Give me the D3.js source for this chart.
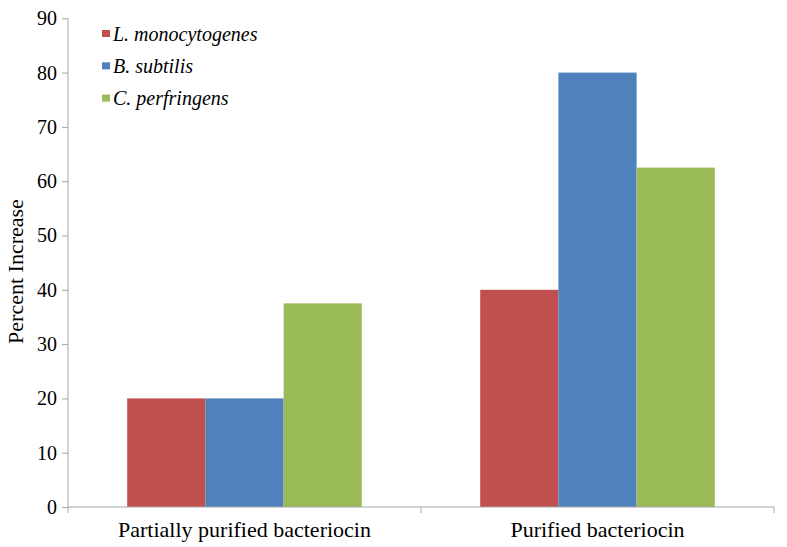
<!DOCTYPE html>
<html><head><meta charset="utf-8">
<script src="https://cdn.jsdelivr.net/npm/d3@7"></script>
<style>body{margin:0;background:#fff}svg{display:block}</style>
</head><body><svg id="c" width="787" height="547"></svg>
<script>
const categories = ["Partially purified bacteriocin", "Purified bacteriocin"];
const seriesNames = ["L. monocytogenes", "B. subtilis", "C. perfringens"];
const seriesColors = ["#c0504d", "#4f81bd", "#9bbb59"];
const lMono = [20, 40];
const bSub = [20, 80];
const cPerf = [37.5, 62.5];
const yTicks = [0,10,20,30,40,50,60,70,80,90];
const seriesValues = [lMono, bSub, cPerf];

const FONT = "'Liberation Serif'";
const svg = d3.select("#c");
const mLeft = 68, mRight = 774, mTop = 18.3, mBottom = 507;
const x0 = d3.scaleBand().domain(categories).range([mLeft, mRight]).paddingInner(0).paddingOuter(0);
const x1 = d3.scaleBand().domain(seriesNames).range([0, x0.bandwidth()]).paddingInner(0).paddingOuter(0.757);
const y = d3.scaleLinear().domain([0, 90]).range([mBottom, mTop]);

// bars
categories.forEach((c, ci) => {
  seriesNames.forEach((s, si) => {
    svg.append("rect")
      .attr("x", x0(c) + x1(s))
      .attr("y", y(seriesValues[si][ci]))
      .attr("width", x1.bandwidth())
      .attr("height", y(0) - y(seriesValues[si][ci]))
      .attr("fill", seriesColors[si]);
  });
});

const axisColor = "#a6a6a6";
// y axis
const ya = svg.append("g").attr("transform", `translate(${mLeft},0)`)
  .call(d3.axisLeft(y).tickValues(yTicks).tickSize(6).tickPadding(5));
ya.attr("font-family", null).attr("font-size", null);
ya.select(".domain").attr("stroke", axisColor).attr("d", `M0,${mTop}V${mBottom}`);
ya.selectAll(".tick line").attr("stroke", axisColor);
ya.selectAll(".tick text").style("font-size", "20px").style("font-family", FONT).attr("fill", "#000");

// x axis
const xa = svg.append("g").attr("transform", `translate(0,${mBottom})`);
xa.append("line").attr("x1", mLeft).attr("x2", mRight).attr("y1", 0).attr("y2", 0).attr("stroke", axisColor);
const bounds = [mLeft, mLeft + x0.bandwidth(), mRight];
bounds.forEach(b => xa.append("line").attr("x1", b).attr("x2", b).attr("y1", 0).attr("y2", 6).attr("stroke", axisColor));
categories.forEach(c => {
  xa.append("text").attr("x", x0(c) + x0.bandwidth() / 2).attr("y", 30)
    .attr("text-anchor", "middle").style("font-size", "22px").style("font-family", FONT).text(c);
});

// y title
svg.append("text").attr("transform", `translate(23,271.5) rotate(-90)`)
  .attr("text-anchor", "middle").style("font-size", "22px").style("font-family", FONT).text("Percent Increase");

// legend
seriesNames.forEach((s, i) => {
  const base = 40.5 + i * 32.3;
  svg.append("rect").attr("x", 102).attr("y", base - 10.5).attr("width", 8).attr("height", 7).attr("fill", seriesColors[i]);
  svg.append("text").attr("x", 113).attr("y", base).style("font-size", "20px").style("font-style", "italic").style("font-family", FONT).text(s);
});
</script></body></html>
